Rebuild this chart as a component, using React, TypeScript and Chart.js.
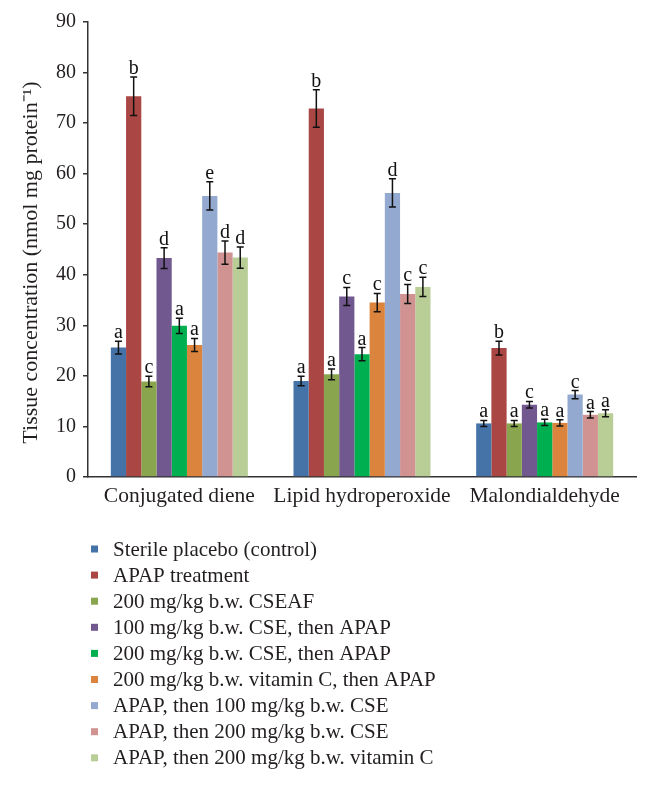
import React, { useEffect, useRef } from "react";
import { Chart, registerables } from "chart.js";

Chart.register(...registerables);

const categories = ["Conjugated diene", "Lipid hydroperoxide", "Malondialdehyde"];

const seriesNames = [
  "Sterile placebo (control)",
  "APAP treatment",
  "200 mg/kg b.w. CSEAF",
  "100 mg/kg b.w. CSE, then APAP",
  "200 mg/kg b.w. CSE, then APAP",
  "200 mg/kg b.w. vitamin C, then APAP",
  "APAP, then 100 mg/kg b.w. CSE",
  "APAP, then 200 mg/kg b.w. CSE",
  "APAP, then 200 mg/kg b.w. vitamin C",
];

const seriesColors = [
  "#4572A7",
  "#AA4643",
  "#89A54E",
  "#71588F",
  "#00B050",
  "#DB843D",
  "#93A9CF",
  "#D19392",
  "#B9CD96",
];

// values per series: [Conjugated diene, Lipid hydroperoxide, Malondialdehyde]
const placebo = [25.6, 19.0, 10.6];
const apap = [75.3, 72.9, 25.5];
const cseaf200 = [18.9, 20.3, 10.6];
const cse100Apap = [43.3, 35.7, 14.3];
const cse200Apap = [29.9, 24.3, 10.8];
const vitcApap = [26.1, 34.5, 10.7];
const apapCse100 = [55.6, 56.2, 16.3];
const apapCse200 = [44.4, 36.2, 12.3];
const apapVitc = [43.4, 37.6, 12.6];

const placeboErr = [1.25, 0.95, 0.6];
const apapErr = [3.8, 3.7, 1.35];
const cseaf200Err = [1.05, 1.05, 0.6];
const cse100ApapErr = [2.05, 1.8, 0.65];
const cse200ApapErr = [1.5, 1.3, 0.6];
const vitcApapErr = [1.3, 1.8, 0.6];
const apapCse100Err = [2.8, 2.8, 0.8];
const apapCse200Err = [2.3, 1.9, 0.65];
const apapVitcErr = [2.1, 1.9, 0.7];

const placeboSig = ["a", "a", "a"];
const apapSig = ["b", "b", "b"];
const cseaf200Sig = ["c", "a", "a"];
const cse100ApapSig = ["d", "c", "c"];
const cse200ApapSig = ["a", "a", "a"];
const vitcApapSig = ["a", "c", "a"];
const apapCse100Sig = ["e", "d", "c"];
const apapCse200Sig = ["d", "c", "a"];
const apapVitcSig = ["d", "c", "a"];

const yTicks = [0, 10, 20, 30, 40, 50, 60, 70, 80, 90];
const yTitle = "Tissue concentration (nmol mg protein\u207B\u00B9)";

const seriesValues = [placebo, apap, cseaf200, cse100Apap, cse200Apap, vitcApap, apapCse100, apapCse200, apapVitc];
const seriesErrors = [placeboErr, apapErr, cseaf200Err, cse100ApapErr, cse200ApapErr, vitcApapErr, apapCse100Err, apapCse200Err, apapVitcErr];
const seriesSig = [placeboSig, apapSig, cseaf200Sig, cse100ApapSig, cse200ApapSig, vitcApapSig, apapCse100Sig, apapCse200Sig, apapVitcSig];

const FONT = "'Liberation Serif', 'Times New Roman', serif";
const TEXT = "#231f20";

const errorBarPlugin = {
  id: "errorBars",
  afterDatasetsDraw(chart: any) {
    const ctx = chart.ctx;
    const yScale = chart.scales.y;
    ctx.save();
    chart.data.datasets.forEach((ds: any, i: number) => {
      const meta = chart.getDatasetMeta(i);
      meta.data.forEach((el: any, j: number) => {
        const v = seriesValues[i][j];
        const e = seriesErrors[i][j];
        const x = el.x;
        const yt = yScale.getPixelForValue(v + e);
        const yb = yScale.getPixelForValue(v - e);
        ctx.strokeStyle = "#111";
        ctx.lineWidth = 1.5;
        ctx.beginPath();
        ctx.moveTo(x, yt);
        ctx.lineTo(x, yb);
        ctx.moveTo(x - 3.5, yt);
        ctx.lineTo(x + 3.5, yt);
        ctx.moveTo(x - 3.5, yb);
        ctx.lineTo(x + 3.5, yb);
        ctx.stroke();
        ctx.fillStyle = "#111";
        ctx.font = `20px ${FONT}`;
        ctx.textAlign = "center";
        ctx.textBaseline = "alphabetic";
        ctx.fillText(seriesSig[i][j], x, yt - 3);
      });
    });
    ctx.restore();
  },
};

const yTitlePlugin = {
  id: "yTitle",
  afterDraw(chart: any) {
    const ctx = chart.ctx;
    const area = chart.chartArea;
    ctx.save();
    ctx.translate(31, (area.top + area.bottom) / 2 + 13);
    ctx.rotate(-Math.PI / 2);
    ctx.fillStyle = TEXT;
    ctx.font = `22px ${FONT}`;
    ctx.textAlign = "center";
    ctx.textBaseline = "middle";
    ctx.fillText(yTitle, 0, 0);
    ctx.restore();
  },
};

const legendPlugin = {
  id: "customLegend",
  afterDraw(chart: any) {
    const ctx = chart.ctx;
    ctx.save();
    seriesNames.forEach((name, i) => {
      const y = 549 + i * 26.1;
      ctx.fillStyle = seriesColors[i];
      ctx.fillRect(91, y - 3.5, 7, 7);
      ctx.fillStyle = TEXT;
      ctx.font = `21px ${FONT}`;
      ctx.textAlign = "left";
      ctx.textBaseline = "middle";
      ctx.fillText(name, 113, y + 1);
    });
    ctx.restore();
  },
};

export default function App() {
  const ref = useRef<HTMLCanvasElement>(null);
  useEffect(() => {
    if (!ref.current) return;
    const chart = new Chart(ref.current, {
      type: "bar",
      data: {
        labels: categories,
        datasets: seriesNames.map((name, i) => ({
          label: name,
          data: seriesValues[i],
          backgroundColor: seriesColors[i],
          borderWidth: 0,
          categoryPercentage: 0.75,
          barPercentage: 1.0,
        })),
      },
      options: {
        animation: false,
        responsive: false,
        maintainAspectRatio: false,
        layout: { padding: { left: 0, right: 14, top: 22, bottom: 0 } },
        plugins: {
          legend: { display: false },
          tooltip: { enabled: false },
        },
        scales: {
          x: {
            grid: { display: true, drawOnChartArea: false, drawTicks: false },
            border: { display: true, color: "#333", width: 1.5 },
            ticks: { color: TEXT, font: { family: FONT, size: 21.5 }, padding: 6, maxRotation: 0, autoSkip: false },
            afterFit: (s: any) => {
              s.height = 319;
            },
          },
          y: {
            min: 0,
            max: 90,
            afterBuildTicks: (s: any) => {
              s.ticks = yTicks.map((v) => ({ value: v }));
            },
            grid: { display: true, drawOnChartArea: false, drawTicks: true, tickLength: 5, color: "#333", lineWidth: 1.5 },
            border: { display: true, color: "#333", width: 1.5 },
            ticks: { color: TEXT, font: { family: FONT, size: 20 }, padding: 7 },
            title: { display: false },
            afterFit: (s: any) => {
              s.width = 88;
            },
          },
        },
      },
      plugins: [errorBarPlugin, yTitlePlugin, legendPlugin],
    });
    return () => chart.destroy();
  }, []);
  return (
    <div style={{ position: "fixed", left: 0, top: 0, width: 650, height: 796, background: "#fff" }}>
      <canvas ref={ref} width={650} height={796} style={{ width: 650, height: 796 }} />
    </div>
  );
}
